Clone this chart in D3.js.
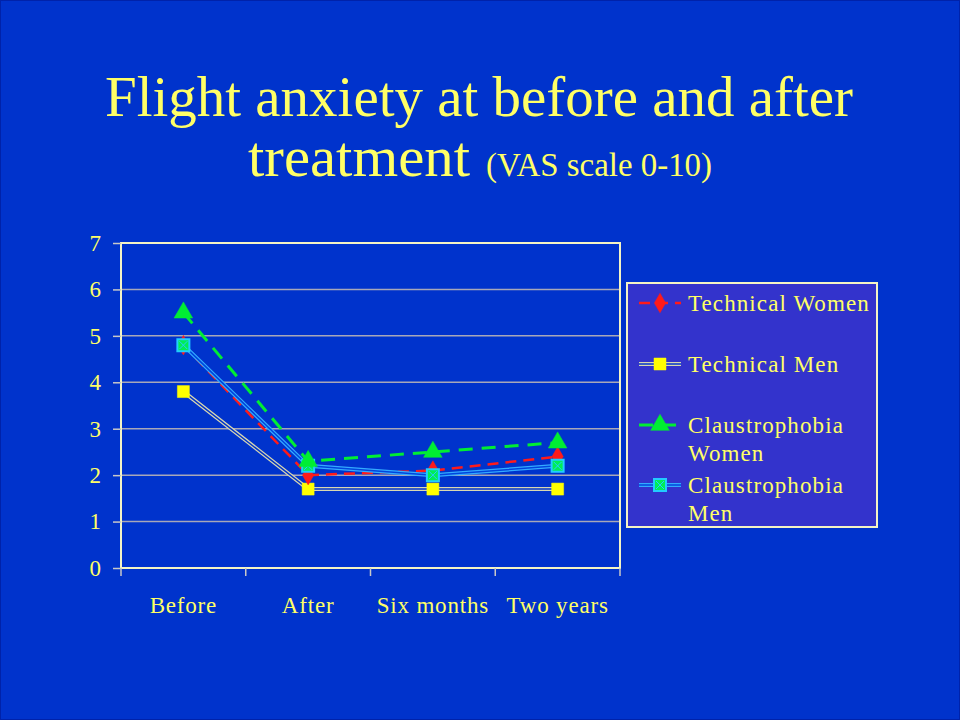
<!DOCTYPE html>
<html>
<head>
<meta charset="utf-8">
<script src="https://cdn.jsdelivr.net/npm/d3@7"></script>
<style>
  html, body { margin: 0; padding: 0; background: #0033cc; }
  svg { display: block; }
</style>
</head>
<body>
<svg id="chart" width="960" height="720"></svg>
<script>
const categories = ['Before', 'After', 'Six months', 'Two years'];
const yTicks = [0, 1, 2, 3, 4, 5, 6, 7];
const seriesNames = ['Technical Women', 'Technical Men', 'Claustrophobia Women', 'Claustrophobia Men'];
const technicalWomen = [4.8, 2.0, 2.1, 2.4];
const technicalMen = [3.8, 1.7, 1.7, 1.7];
const claustroWomen = [5.5, 2.3, 2.5, 2.7];
const claustroMen = [4.8, 2.2, 2.0, 2.2];

const yellow = '#ffff66';
const frame = '#f4f4c4';
const serif = '"Liberation Serif", "Times New Roman", serif';

const svg = d3.select('#chart');
svg.append('rect').attr('width', 960).attr('height', 720).attr('fill', '#0033cc')
  .attr('stroke', '#0022aa').attr('stroke-width', 2);

// title
svg.append('text').attr('x', 479).attr('y', 116).attr('text-anchor', 'middle')
  .attr('font-family', serif).attr('font-size', 58).attr('fill', yellow)
  .attr('textLength', 748).attr('lengthAdjust', 'spacingAndGlyphs')
  .text('Flight anxiety at before and after');
svg.append('text').attr('x', 248).attr('y', 176)
  .attr('font-family', serif).attr('font-size', 58).attr('fill', yellow)
  .attr('textLength', 222).attr('lengthAdjust', 'spacingAndGlyphs')
  .text('treatment');
svg.append('text').attr('x', 486).attr('y', 176)
  .attr('font-family', serif).attr('font-size', 33).attr('fill', yellow)
  .attr('textLength', 226).attr('lengthAdjust', 'spacingAndGlyphs')
  .text('(VAS scale 0-10)');

const plot = { left: 121, right: 620, top: 243, bottom: 568 };

const x = d3.scaleBand().domain(categories).range([plot.left, plot.right]);
const y = d3.scaleLinear().domain([0, 7]).range([plot.bottom, plot.top]);
const cx = d => x(d) + x.bandwidth() / 2;

// gridlines
svg.append('g').selectAll('line').data(yTicks.filter(t => t > 0 && t < 7)).join('line')
  .attr('x1', plot.left).attr('x2', plot.right)
  .attr('y1', d => y(d)).attr('y2', d => y(d))
  .attr('stroke', '#a8a8b8').attr('stroke-width', 1.5);

// frame
svg.append('rect').attr('x', plot.left).attr('y', plot.top)
  .attr('width', plot.right - plot.left).attr('height', plot.bottom - plot.top)
  .attr('fill', 'none').attr('stroke', frame).attr('stroke-width', 2);

// y axis
const yAxis = svg.append('g').attr('transform', `translate(${plot.left},0)`)
  .call(d3.axisLeft(y).tickValues(yTicks).tickSize(8).tickPadding(12).tickFormat(d3.format('d')));
yAxis.select('.domain').remove();
yAxis.selectAll('line').attr('stroke', '#c8c8c8').attr('stroke-width', 1.5);
yAxis.selectAll('text').attr('fill', yellow).attr('font-family', serif).attr('font-size', 23);

// x axis ticks at band boundaries
const boundaries = categories.map(c => x(c)).concat([plot.right]);
svg.append('g').selectAll('line').data(boundaries).join('line')
  .attr('x1', d => d).attr('x2', d => d).attr('y1', plot.bottom).attr('y2', plot.bottom + 8)
  .attr('stroke', '#c8c8c8').attr('stroke-width', 1.5);
svg.append('g').selectAll('text').data(categories).join('text')
  .attr('x', d => cx(d)).attr('y', 613).attr('text-anchor', 'middle')
  .attr('fill', yellow).attr('font-family', serif).attr('font-size', 23)
  .attr('letter-spacing', 0.8)
  .text(d => d);

const line = d3.line().x((d, i) => cx(categories[i])).y(d => y(d));

const styles = [
  { data: technicalWomen, kind: 'dash', color: '#ff1a1a', width: 2.5, dash: '11,7', marker: 'diamond', fill: '#ff1a1a', stroke: '#ff1a1a' },
  { data: technicalMen, kind: 'double', outer: '#d8d8b0', inner: '#0033cc', marker: 'square', fill: '#ffff00', stroke: '#ffff00' },
  { data: claustroWomen, kind: 'dash', color: '#00ee33', width: 3, dash: '14,9', marker: 'triangle', fill: '#00ee33', stroke: '#00ee33' },
  { data: claustroMen, kind: 'double', outer: '#33aaff', inner: '#0044dd', marker: 'square', fill: '#00ee55', stroke: '#22ccff' }
];

function drawLine(g, s, pathD) {
  if (s.kind === 'dash') {
    g.append('path').attr('d', pathD).attr('fill', 'none')
      .attr('stroke', s.color).attr('stroke-width', s.width).attr('stroke-dasharray', s.dash);
  } else {
    g.append('path').attr('d', pathD).attr('fill', 'none').attr('stroke', s.outer).attr('stroke-width', 4);
    g.append('path').attr('d', pathD).attr('fill', 'none').attr('stroke', s.inner).attr('stroke-width', 1.5);
  }
}

function markerPath(m) {
  if (m === 'diamond') return d3.symbol(d3.symbolDiamond, 110)();
  if (m === 'triangle') return d3.symbol(d3.symbolTriangle, 150)();
  return d3.symbol(d3.symbolSquare, 144)();
}

function drawMarker(g, s, px, py) {
  g.append('path').attr('d', markerPath(s.marker))
    .attr('transform', `translate(${px},${py})`)
    .attr('fill', s.fill).attr('stroke', s.stroke).attr('stroke-width', s.marker === 'square' && s.stroke !== s.fill ? 2 : 0.5);
  if (s.stroke !== s.fill && s.marker === 'square') {
    g.append('path').attr('d', 'M-4,-4L4,4M-4,4L4,-4').attr('transform', `translate(${px},${py})`)
      .attr('stroke', '#22ccff').attr('stroke-width', 1);
  }
}

// draw in order so the plot overlap matches
const drawOrder = [1, 0, 3, 2];
const series = svg.append('g');
drawOrder.forEach(i => {
  const s = styles[i];
  const g = series.append('g');
  drawLine(g, s, line(s.data));
});
drawOrder.forEach(i => {
  const s = styles[i];
  const g = series.append('g');
  s.data.forEach((v, j) => drawMarker(g, s, cx(categories[j]), y(v)));
});

// legend
const legend = svg.append('g');
legend.append('rect').attr('x', 627).attr('y', 283).attr('width', 250).attr('height', 244)
  .attr('fill', '#3333cc').attr('stroke', frame).attr('stroke-width', 2);
const legendRows = [
  { lines: ['Technical Women'], y: 303 },
  { lines: ['Technical Men'], y: 364 },
  { lines: ['Claustrophobia', 'Women'], y: 425 },
  { lines: ['Claustrophobia', 'Men'], y: 485 }
];
legendRows.forEach((r, i) => {
  const s = styles[i];
  const g = legend.append('g');
  drawLine(g, s, `M639,${r.y}L681,${r.y}`);
  drawMarker(g, s, 660, r.y);
  const t = g.append('text').attr('x', 688).attr('y', r.y + 8)
    .attr('fill', yellow).attr('font-family', serif).attr('font-size', 23)
    .attr('letter-spacing', 1.1);
  r.lines.forEach((ln, k) => {
    t.append('tspan').attr('x', 688).attr('dy', k === 0 ? 0 : 28).text(ln);
  });
});
</script>
</body>
</html>
